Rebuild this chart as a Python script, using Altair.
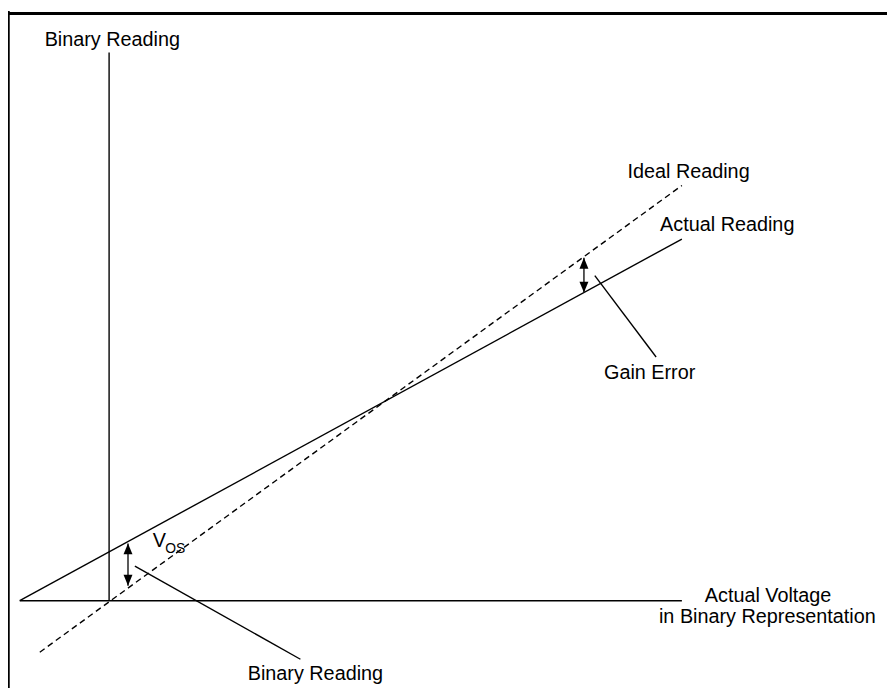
import altair as alt
import pandas as pd

# Units: x = actual voltage (binary units), y = binary reading (ideal: y = x)
voltage_axis_x = [-15.6, 100.0]
voltage_axis_y = [0.0, 0.0]
reading_axis_x = [0.0, 0.0]
reading_axis_y = [0.0, 132.0]

ideal_x = [-12.1, 100.0]
ideal_y = [-12.4, 100.0]
actual_x = [-15.6, 100.0]
actual_y = [0.0, 87.1]

vos_arrow_x = [3.3, 3.3]
vos_arrow_y = [3.6, 13.8]
gain_arrow_x = [82.9, 82.9]
gain_arrow_y = [74.2, 82.6]

vos_leader_x = [4.5, 33.4]
vos_leader_y = [8.35, -14.1]
gain_leader_x = [84.8, 95.5]
gain_leader_y = [78.3, 58.7]

label_text = ["Binary Reading", "Ideal Reading", "Actual Reading", "Gain Error",
              "Actual Voltage", "in Binary Representation", "Binary Reading", "V"]
label_x = [-11.25, 90.5, 96.2, 86.4, 104.0, 96.0, 24.2, 7.6]
label_y = [133.7, 101.7, 89.0, 53.5, -0.2, -5.4, -19.0, 12.9]
sub_text = ["OS"]
sub_x = [9.8]
sub_y = [11.5]

W, H = 887, 683
xs = alt.Scale(domain=[-17.65, 135.81], nice=False, zero=False)
ys = alt.Scale(domain=[-21.0, 142.0], nice=False, zero=False)
FONT = "Liberation Sans"


def seg(xv, yv, name):
    return pd.DataFrame({"x": [xv[0]], "y": [yv[0]], "x2": [xv[1]], "y2": [yv[1]], "name": [name]})


solid = pd.concat([
    seg(voltage_axis_x, voltage_axis_y, "voltage axis"),
    seg(reading_axis_x, reading_axis_y, "reading axis"),
    seg(actual_x, actual_y, "actual"),
    seg(vos_leader_x, vos_leader_y, "vos leader"),
    seg(gain_leader_x, gain_leader_y, "gain leader"),
], ignore_index=True)
arrows = pd.concat([
    seg(vos_arrow_x, vos_arrow_y, "vos"),
    seg(gain_arrow_x, gain_arrow_y, "gain"),
], ignore_index=True)
ideal = seg(ideal_x, ideal_y, "ideal")

X = alt.X("x:Q", scale=xs, axis=None)
Y = alt.Y("y:Q", scale=ys, axis=None)

solid_layer = alt.Chart(solid).mark_rule(color="black", strokeWidth=1.4).encode(
    x=X, y=Y, x2="x2:Q", y2="y2:Q")
ideal_layer = alt.Chart(ideal).mark_rule(color="black", strokeWidth=1.4, strokeDash=[6, 4]).encode(
    x=X, y=Y, x2="x2:Q", y2="y2:Q")
shaft_layer = alt.Chart(arrows).mark_rule(color="#222222", strokeWidth=1.5).encode(
    x=X, y=Y, x2="x2:Q", y2="y2:Q")

up_tips = pd.DataFrame({"x": [vos_arrow_x[1], gain_arrow_x[1]], "y": [vos_arrow_y[1], gain_arrow_y[1]]})
down_tips = pd.DataFrame({"x": [vos_arrow_x[0], gain_arrow_x[0]], "y": [vos_arrow_y[0], gain_arrow_y[0]]})
up_layer = alt.Chart(up_tips).mark_point(
    shape="M0,0L-0.82,2L0.82,2Z", filled=True, size=121, color="black", opacity=1, strokeWidth=0
).encode(x=X, y=Y)
down_layer = alt.Chart(down_tips).mark_point(
    shape="M0,0L-0.82,-2L0.82,-2Z", filled=True, size=121, color="black", opacity=1, strokeWidth=0
).encode(x=X, y=Y)

labels = pd.DataFrame({"x": label_x, "y": label_y, "t": label_text})
label_layer = alt.Chart(labels).mark_text(
    align="left", baseline="alphabetic", font=FONT, fontSize=20, color="black"
).encode(x=X, y=Y, text="t:N")
subs = pd.DataFrame({"x": sub_x, "y": sub_y, "t": sub_text})
sub_layer = alt.Chart(subs).mark_text(
    align="left", baseline="alphabetic", font=FONT, fontSize=14, color="black"
).encode(x=X, y=Y, text="t:N")

frame_left = alt.Chart(pd.DataFrame({"k": [0]})).mark_rule(color="black", strokeWidth=2.5).encode(
    x=alt.value(0.5), y=alt.value(0), y2=alt.value(H))
frame_top = alt.Chart(pd.DataFrame({"k": [0]})).mark_rule(color="black", strokeWidth=3).encode(
    y=alt.value(2.5), x=alt.value(0), x2=alt.value(W))

chart = alt.layer(
    frame_left, frame_top, ideal_layer, solid_layer, shaft_layer,
    up_layer, down_layer, label_layer, sub_layer
).properties(
    width=W, height=H, padding=0, autosize=alt.AutoSizeParams(type="none"), background="white"
).configure_view(stroke=None)

chart.save("out.html", embed_options={"renderer": "svg", "actions": False})
